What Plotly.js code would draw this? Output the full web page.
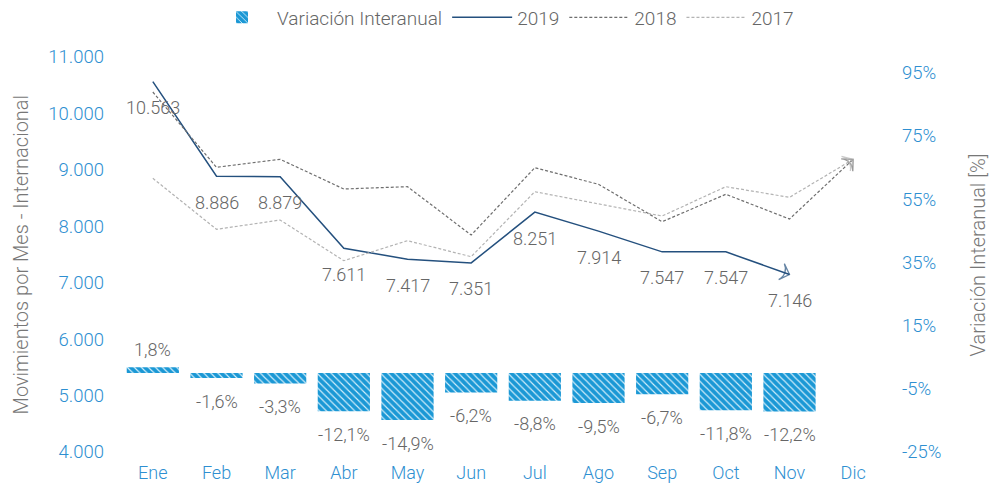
<!DOCTYPE html>
<html><head><meta charset="utf-8">
<script src="https://cdn.plot.ly/plotly-3.0.1.min.js"></script>
<style>html,body{margin:0;padding:0;background:#fff}#chart{width:990px;height:488px}</style>
</head><body><div id="chart"></div>
<script>
const months = ['Ene','Feb','Mar','Abr','May','Jun','Jul','Ago','Sep','Oct','Nov','Dic'];
const mov2019 = [10563, 8886, 8879, 7611, 7417, 7351, 8251, 7914, 7547, 7547, 7146];
const mov2018 = [10380, 9045, 9187, 8661, 8702, 7845, 9038, 8744, 8081, 8567, 8129, 9187];
const mov2017 = [8850, 7946, 8111, 7390, 7745, 7461, 8613, 8400, 8182, 8702, 8513, 9187];
const variacion = [1.8, -1.6, -3.3, -12.1, -14.9, -6.2, -8.8, -9.5, -6.7, -11.8, -12.2];
const leftTicks = [4000, 5000, 6000, 7000, 8000, 9000, 10000, 11000];
const rightTicks = [-25, -5, 15, 35, 55, 75, 95];

const FONT = 'Roboto, "Open Sans", sans-serif';
const BLUE_TXT = '#2e8fd1';
const GRAY_TXT = '#666666';
const BAR_BLUE = '#1b98d5';
const C2019 = '#24507e';
const C2018 = '#6e6e6e';
const C2017 = '#b3b3b3';

function fmtThousands(v){ return String(v).replace(/\B(?=(\d{3})+(?!\d))/g, '.'); }
function fmtPct(v){ return v.toFixed(1).replace('.', ',') + '%'; }

function arrowTrace(xs, ys, color){
  const n = ys.length;
  return {
    type:'scatter', mode:'markers', x:[xs[n-2], xs[n-1]], y:[ys[n-2], ys[n-1]],
    marker:{symbol:'arrow-wide-open', angleref:'previous', size:[0, 12], color:color, line:{color:color, width:1.3}},
    showlegend:false, hoverinfo:'skip'
  };
}

const traces = [
  {
    type:'bar', name:'Variación Interanual', x: months.slice(0, variacion.length), y: variacion, yaxis:'y2',
    width: 0.82,
    marker:{color: BAR_BLUE, line:{width:0}, pattern:{shape:'\\', fgcolor:'#d6f0fc', bgcolor: BAR_BLUE, size:5, solidity:0.22, fillmode:'replace'}},
    hoverinfo:'skip'
  },
  {type:'scatter', mode:'lines', name:'2019', x: months.slice(0, mov2019.length), y: mov2019, line:{color:C2019, width:1.5}},
  {type:'scatter', mode:'lines', name:'2018', x: months.slice(0, mov2018.length), y: mov2018, line:{color:C2018, width:1.2, dash:'3px,2px'}},
  {type:'scatter', mode:'lines', name:'2017', x: months.slice(0, mov2017.length), y: mov2017, line:{color:C2017, width:1.2, dash:'3px,2px'}},
  arrowTrace(months, mov2019, C2019),
  arrowTrace(months, mov2018, C2018),
  arrowTrace(months, mov2017, C2017)
];

const annotations = [];
mov2019.forEach((v, i) => {
  annotations.push({x: months[i], y: v, xref:'x', yref:'y', text: fmtThousands(v), showarrow:false,
    yshift:-26, font:{family:FONT, size:18, color:GRAY_TXT, weight:300}});
});
variacion.forEach((v, i) => {
  annotations.push({x: months[i], y: v, xref:'x', yref:'y2', text: fmtPct(v), showarrow:false,
    yshift: v >= 0 ? 18 : -23, font:{family:FONT, size:18, color:GRAY_TXT, weight:300}});
});
annotations.push({xref:'paper', yref:'paper', x:-0.131, y:0.5, xanchor:'center', yanchor:'middle',
  text:'Movimientos por Mes - Internacional',
  textangle:-90, showarrow:false, font:{family:FONT, size:20, color:'#777777', weight:300}});
annotations.push({xref:'paper', yref:'paper', x:1.1217, y:0.5, xanchor:'center', yanchor:'middle',
  text:'Variación Interanual [%]',
  textangle:-90, showarrow:false, font:{family:FONT, size:20, color:'#777777', weight:300}});

const layout = {
  width:990, height:488,
  margin:{l:121, r:105, t:57, b:36, pad:0, autoexpand:false},
  paper_bgcolor:'#ffffff', plot_bgcolor:'#ffffff',
  separators: ',.',
  font:{family:FONT, size:18, color:GRAY_TXT, weight:300},
  showlegend:true,
  legend:{orientation:'h', x:0.5, xanchor:'center', y:1.1, yanchor:'middle',
    font:{family:FONT, size:19, color:GRAY_TXT, weight:300}, itemwidth:60, bgcolor:'rgba(0,0,0,0)'},
  xaxis:{type:'category', categoryorder:'array', categoryarray: months, range:[-0.5, 11.5], automargin:false,
    showgrid:false, zeroline:false, showline:false, ticks:'', ticklabelstandoff:8,
    tickfont:{family:FONT, size:18, color:BLUE_TXT, weight:300}, fixedrange:true},
  yaxis:{range:[4000, 11000], tickvals: leftTicks, ticktext: leftTicks.map(fmtThousands), automargin:false,
    showgrid:false, zeroline:false, showline:false, ticks:'', ticklabelstandoff:16,
    tickfont:{family:FONT, size:18.5, color:BLUE_TXT, weight:300}, fixedrange:true},
  yaxis2:{overlaying:'y', side:'right', range:[-25, 100], tickvals: rightTicks, ticktext: rightTicks.map(v => v + '%'), automargin:false,
    showgrid:false, zeroline:false, showline:false, ticks:'', ticklabelstandoff:16,
    tickfont:{family:FONT, size:18.5, color:BLUE_TXT, weight:300}, fixedrange:true},
  annotations: annotations,
  bargap:0.18
};

Plotly.newPlot('chart', traces, layout, {displayModeBar:false, staticPlot:true});
</script>
</body></html>
